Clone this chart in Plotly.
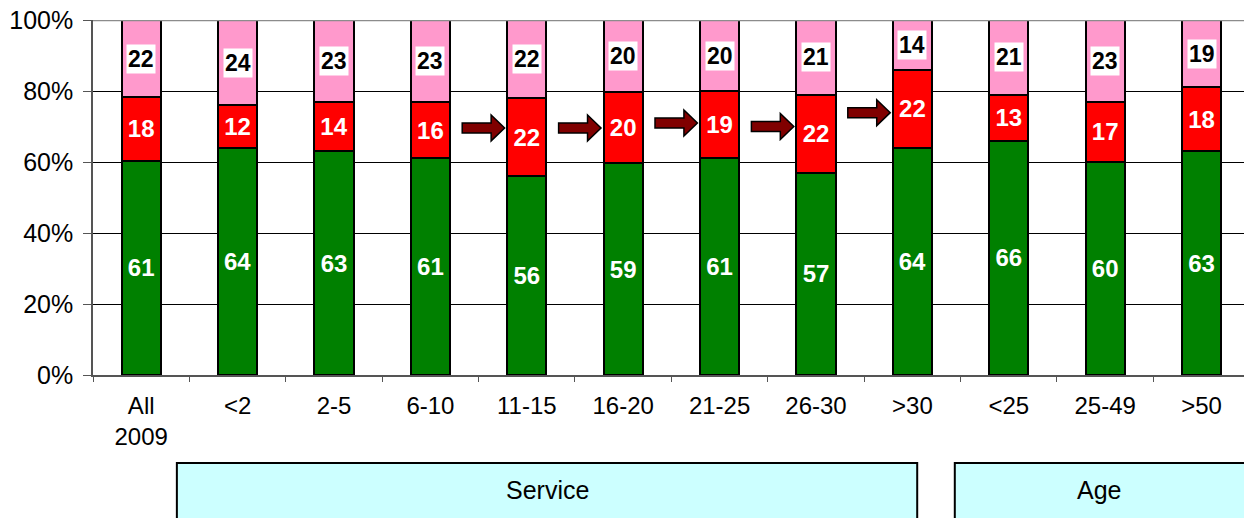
import plotly.graph_objects as go

# Categories along the x axis
categories = ["All<br>2009", "<2", "2-5", "6-10", "11-15", "16-20", "21-25",
              "26-30", ">30", "<25", "25-49", ">50"]

# Stacked shares (bottom to top)
green_vals = [61, 64, 63, 61, 56, 59, 61, 57, 64, 66, 60, 63]
red_vals = [18, 12, 14, 16, 22, 20, 19, 22, 22, 13, 17, 18]
pink_vals = [22, 24, 23, 23, 22, 20, 20, 21, 14, 21, 23, 19]

# Y axis ticks
y_ticks = [0, 20, 40, 60, 80, 100]
y_tick_labels = ["0%", "20%", "40%", "60%", "80%", "100%"]

# Group boxes under the axis: (label, left, right) in category units
groups = [("Service", 0.37, 8.05), ("Age", 8.44, 11.8)]

# Arrows pointing into these categories, with their vertical level (%)
arrow_targets = [4, 5, 6, 7, 8]
arrow_levels = [69.6, 69.6, 71.0, 70.0, 73.9]

FONT = "Liberation Sans, Arial, sans-serif"
GREEN = "#008000"
RED = "#FF0000"
PINK = "#FF99CC"
CYAN = "#CCFFFF"

x = list(range(len(categories)))
bar_w = 0.405

fig = go.Figure()
fig.add_bar(x=x, y=green_vals, marker=dict(color=GREEN, line=dict(color="black", width=2)),
            width=bar_w, text=[str(v) for v in green_vals], textposition="inside",
            insidetextanchor="middle", textangle=0, constraintext="none",
            textfont=dict(family=FONT, size=24, color="white", weight="bold"))
fig.add_bar(x=x, y=red_vals, marker=dict(color=RED, line=dict(color="black", width=2)),
            width=bar_w, text=[str(v) for v in red_vals], textposition="inside",
            insidetextanchor="middle", textangle=0, constraintext="none",
            textfont=dict(family=FONT, size=24, color="white", weight="bold"))
fig.add_bar(x=x, y=pink_vals, marker=dict(color=PINK, line=dict(color="black", width=2)),
            width=bar_w, hoverinfo="y")

annotations = []
# Pink segment labels on white boxes
for i, (g, r, p) in enumerate(zip(green_vals, red_vals, pink_vals)):
    tot = g + r + p
    yc = (g + r + p / 2) / tot * 100
    annotations.append(dict(x=i, y=yc, xref="x", yref="y", text=str(p), showarrow=False,
                            bgcolor="white", borderpad=1,
                            font=dict(family=FONT, size=23, color="black", weight="bold")))

shapes = []
# Block arrows
sh_h, hd_h = 1.41, 3.66
for t, lv in zip(arrow_targets, arrow_levels):
    x_tail, x_base, x_tip = t - 0.67, t - 0.37, t - 0.23
    path = (f"M {x_tail},{lv - sh_h} L {x_base},{lv - sh_h} L {x_base},{lv - hd_h} "
            f"L {x_tip},{lv} L {x_base},{lv + hd_h} L {x_base},{lv + sh_h} "
            f"L {x_tail},{lv + sh_h} Z")
    shapes.append(dict(type="path", path=path, xref="x", yref="y",
                       fillcolor="#800000", line=dict(color="black", width=1.5)))

# Top border line of the plot area
shapes.append(dict(type="line", xref="paper", yref="y", x0=0, x1=1, y0=100, y1=100,
                   line=dict(color="#8c8c8c", width=2.5)))

# Group boxes below the axis
for name, x0, x1 in groups:
    shapes.append(dict(type="rect", xref="x", yref="paper", x0=x0, x1=x1,
                       y0=-0.47, y1=-0.248, fillcolor=CYAN,
                       line=dict(color="black", width=2), layer="above"))
    annotations.append(dict(x=(x0 + x1) / 2 if name == "Service" else 9.94, y=-0.324,
                            xref="x", yref="paper", text=name, showarrow=False,
                            yanchor="middle",
                            font=dict(family=FONT, size=25, color="black")))

fig.update_layout(
    barmode="stack",
    barnorm="percent",
    width=1244, height=518,
    margin=dict(l=93, r=0, t=20, b=143),
    plot_bgcolor="white", paper_bgcolor="white",
    showlegend=False,
    font=dict(family=FONT, size=24, color="black"),
    shapes=shapes,
    annotations=annotations,
    xaxis=dict(range=[-0.5, 11.44], tickvals=x, ticktext=categories, ticks="",
               showgrid=False, showline=True, linecolor="#555555", linewidth=1.5,
               zeroline=False, ticklabelstandoff=8,
               minor=dict(tickvals=[i - 0.5 for i in range(len(categories) + 1)],
                          ticks="outside", ticklen=5, tickcolor="#555555", showgrid=False),
               tickfont=dict(family=FONT, size=24, color="black")),
    yaxis=dict(range=[0, 100], tickvals=y_ticks, ticktext=y_tick_labels,
               showgrid=True, gridcolor="black", gridwidth=1, zeroline=False,
               showline=True, linecolor="#555555", linewidth=1.5,
               ticks="outside", ticklen=8, tickcolor="#555555", ticklabelstandoff=5,
               tickfont=dict(family=FONT, size=25, color="black")),
)

fig.write_html("out.html")
